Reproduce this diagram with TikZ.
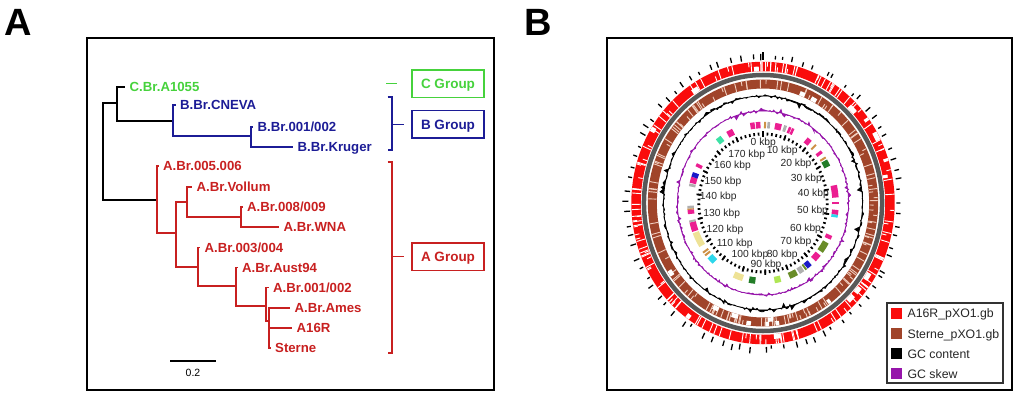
\documentclass[tikz,border=0pt]{standalone}
\usepackage{fontspec}
\setmainfont{Liberation Sans}
\usetikzlibrary{positioning}

\definecolor{cgreen}{RGB}{70,210,60}
\definecolor{bblue}{RGB}{28,28,150}
\definecolor{ared}{RGB}{200,32,32}
\definecolor{ringred}{RGB}{250,12,12}
\definecolor{ringbrown}{RGB}{160,68,42}
\definecolor{ringgap}{RGB}{240,205,190}
\definecolor{ringgray}{RGB}{88,88,88}
\definecolor{skew}{RGB}{150,20,170}
\definecolor{fpink}{RGB}{235,30,145}
\definecolor{fgreen}{RGB}{35,125,40}
\definecolor{folive}{RGB}{105,140,40}
\definecolor{flime}{RGB}{175,230,85}
\definecolor{fpale}{RGB}{238,226,150}
\definecolor{fcyan}{RGB}{45,215,235}
\definecolor{fteal}{RGB}{60,225,165}
\definecolor{ftan}{RGB}{205,145,70}
\definecolor{fgray}{RGB}{175,175,175}
\definecolor{fblue}{RGB}{25,25,200}

\tikzstyle{panel} = [inner sep=0pt, text height=27pt, text depth=0pt, font=\fontsize{38}{40}\selectfont\bfseries]
\tikzstyle{frame} = [line width=2.6pt]
\tikzstyle{leaf} = [anchor=west, inner xsep=4.5pt, inner ysep=0pt, text height=9.5pt, text depth=0pt, font=\fontsize{13.2}{15}\selectfont\bfseries]
\tikzstyle{branch} = [line width=1.8pt]
\tikzstyle{group} = [rectangle, draw, line width=1.8pt, minimum width=72.5pt, minimum height=27.5pt, inner sep=0pt, text height=9.7pt, text depth=0pt, font=\fontsize{13.5}{15}\selectfont\bfseries]
\tikzstyle{brace} = [line width=1.4pt]
\tikzstyle{gap} = [white, line width=0.9pt]
\tikzstyle{kbp} = [inner sep=0pt, text height=7.5pt, text depth=0pt, font=\fontsize{10.3}{12}\selectfont, text=black!85]
\tikzstyle{swatch} = [rectangle, minimum size=11pt, inner sep=0pt]
\tikzstyle{legendtext} = [inner sep=0pt, text height=8.8pt, text depth=0pt, font=\fontsize{12.3}{14}\selectfont, text=black!85]

\begin{document}
\begin{tikzpicture}[x=1pt, y=-1pt]
    \useasboundingbox (0,0) rectangle (1024,401);

    %Panels
    \node (panelA) [panel] at (18,22.5) {A};
    \node (panelB) [panel] at (538.5,22.5) {B};
    \draw [frame] (87,38) rectangle (494,390);
    \draw [frame] (607,38) rectangle (1012,390);

    %Inner tree nodes
    \coordinate (root) at (103,150);
    \coordinate (nCB) at (117,103);
    \coordinate (nB) at (173,121);
    \coordinate (nB2) at (251,136);
    \coordinate (nA) at (157,200);
    \coordinate (nA2) at (176,233);
    \coordinate (nA3) at (187,202);
    \coordinate (nA4) at (241,217);
    \coordinate (nA5) at (198,267);
    \coordinate (nA6) at (236,286);
    \coordinate (nA7) at (266,306);
    \coordinate (nA8) at (269,321);

    %Leaves
    \node (cbr) [leaf, text=cgreen] at (125,87) {C.Br.A1055};
    \node (bcneva) [leaf, text=bblue] at (175.5,105) {B.Br.CNEVA};
    \node (bbr) [leaf, text=bblue] at (253,127) {B.Br.001/002};
    \node (bkruger) [leaf, text=bblue] at (293,147) {B.Br.Kruger};
    \node (a005) [leaf, text=ared] at (158.5,166) {A.Br.005.006};
    \node (avollum) [leaf, text=ared] at (192,187) {A.Br.Vollum};
    \node (a008) [leaf, text=ared] at (242.5,207) {A.Br.008/009};
    \node (awna) [leaf, text=ared] at (279,227) {A.Br.WNA};
    \node (a003) [leaf, text=ared] at (200,247.5) {A.Br.003/004};
    \node (aaust) [leaf, text=ared] at (237.5,267.5) {A.Br.Aust94};
    \node (a001) [leaf, text=ared] at (268.5,287.5) {A.Br.001/002};
    \node (aames) [leaf, text=ared] at (290,308) {A.Br.Ames};
    \node (a16r) [leaf, text=ared] at (292,328) {A16R};
    \node (sterne) [leaf, text=ared] at (270.5,348) {Sterne};

    %Branches
    \foreach \p/\c in {root/nCB, root/nA, nCB/cbr.west, nCB/nB}
        \draw [branch] (\p) |- (\c);
    \foreach \p/\c in {nB/bcneva.west, nB/nB2, nB2/bbr.west, nB2/bkruger.west}
        \draw [branch, bblue] (\p) |- (\c);
    \foreach \p/\c in {nA/a005.west, nA/nA2, nA2/nA3, nA2/nA5, nA3/avollum.west, nA3/nA4,
        nA4/a008.west, nA4/awna.west, nA5/a003.west, nA5/nA6, nA6/aaust.west, nA6/nA7,
        nA7/a001.west, nA7/nA8, nA8/aames.west, nA8/a16r.west, nA8/sterne.west}
        \draw [branch, ared] (\p) |- (\c);

    %Scale bar
    \coordinate (bar1) at (170,361);
    \coordinate (bar2) at (216,361);
    \draw [line width=1.5pt] (bar1) -- (bar2);
    \node (barlabel) [font=\fontsize{10.5}{12}\selectfont] at (193,373) {0.2};

    %Groups
    \node (cgroup) [group, cgreen] at (448,83.8) {C Group};
    \node (bgroup) [group, bblue] at (448,124.2) {B Group};
    \node (agroup) [group, ared] at (448,256.7) {A Group};
    \coordinate (cmid) at (386,83.8);
    \coordinate (btop) at (392,97);
    \coordinate (bbot) at (392,150);
    \coordinate (bmid) at (392,124.2);
    \coordinate (atop) at (392,162);
    \coordinate (abot) at (392,353);
    \coordinate (amid) at (392,256.7);
    \draw [brace, cgreen, shorten >=13.4pt] (cmid) -- (cgroup);
    \draw [brace, bblue] ([xshift=-4.5pt]btop) -- (btop) -- (bbot) -- ([xshift=-4.5pt]bbot);
    \draw [brace, bblue, shorten >=6.7pt] (bmid) -- (bgroup);
    \draw [brace, ared] ([xshift=-4.5pt]atop) -- (atop) -- (abot) -- ([xshift=-4.5pt]abot);
    \draw [brace, ared, shorten >=6.7pt] (amid) -- (agroup);

    %Plasmid map
    \begin{scope}[shift={(763,203)}, x=0.93pt, y=1pt]
        \pgfmathsetseed{4711}
        %outer ticks
        \foreach \i in {0,...,79}{
            \pgfmathsetmacro\ta{90-\i*4.5+1.5*(2*rnd-1)}
            \pgfmathsetmacro\tr{142.5+2.5*rnd}
            \pgfmathsetmacro\tl{\tr+3+3.5*rnd}
            \draw [line width=1.3pt] (\ta:\tr) -- (\ta:\tl);
        }
        \draw [line width=1.3pt] (90:143) -- (90:151);
        %A16R ring
        \draw [ringred, line width=9.5pt] (0,0) circle (136.5);
        \foreach \i in {1,...,100}{
            \pgfmathsetmacro\ga{rnd*360}
            \draw [gap] (\ga:131.7) -- (\ga:141.3);
        }
        \foreach \i in {1,...,50}{
            \pgfmathsetmacro\ga{rnd*360}
            \pgfmathsetmacro\gr{131.7+4.8*round(rnd)}
            \pgfmathsetmacro\gs{\gr+4.8}
            \draw [gap] (\ga:\gr) -- (\ga:\gs);
        }
        \foreach \i in {1,...,14}{
            \pgfmathsetmacro\ga{rnd*360}
            \pgfmathsetmacro\gb{\ga+1+3*rnd}
            \pgfmathsetmacro\gr{134.1+4.8*round(rnd)}
            \draw [white, line width=4.8pt] (\ga:\gr) arc[start angle=\ga, end angle=\gb, radius=\gr];
        }
        %grey ring
        \draw [ringgray, line width=4.5pt] (0,0) circle (128);
        %Sterne ring
        \draw [ringbrown, line width=9pt] (0,0) circle (119);
        \foreach \i in {1,...,90}{
            \pgfmathsetmacro\ga{rnd*360}
            \draw [gap, ringgap] (\ga:114.6) -- (\ga:123.4);
        }
        \foreach \i in {1,...,50}{
            \pgfmathsetmacro\ga{rnd*360}
            \pgfmathsetmacro\gr{114.6+4.4*round(rnd)}
            \pgfmathsetmacro\gs{\gr+4.4}
            \draw [gap, ringgap] (\ga:\gr) -- (\ga:\gs);
        }
        \foreach \i in {1,...,10}{
            \pgfmathsetmacro\ga{rnd*360}
            \pgfmathsetmacro\gb{\ga+1+2.5*rnd}
            \pgfmathsetmacro\gr{116.8+4.4*round(rnd)}
            \draw [white, line width=4.4pt] (\ga:\gr) arc[start angle=\ga, end angle=\gb, radius=\gr];
        }
        %GC content
        \filldraw [line width=0.7pt, even odd rule] plot[domain=0:359, samples=300]
            (\x:{107+1.0*(2*rnd-1)+6.5*(2*rnd-1)*(2*rnd-1)*(2*rnd-1)}) -- cycle (0,0) circle (107);
        %GC skew
        \filldraw [skew, line width=0.7pt, even odd rule] plot[domain=0:359, samples=300]
            (\x:{92+0.9*(2*rnd-1)+5*(2*rnd-1)*(2*rnd-1)*(2*rnd-1)}) -- cycle (0,0) circle (92);
        %features
        \foreach \a/\b/\c in {92/95.6/fpink, 96.4/100/fpink, 87.6/89.2/ftan, 84.5/86.6/fgray,
            75.5/80.6/fpink, 71.5/73.8/fgray, 65.5/67.5/fpink, 68/70/fpink, 50/54/fpink,
            45/46.5/ftan, 38/40.5/fpink, 33.5/35/ftan, 27.5/32.5/fgreen, 4/13/fpink,
            -1/1/fpink, -8.5/-5/fpink, -10.5/-8.5/fcyan, -27/-24/fpink, -38/-30/folive,
            -46/-40.5/fpink, -54/-50/fblue, -56/-54.5/folive, -61/-57/fgray,
            -69/-62.5/folive, -81/-76/flime, -101/-96/fgreen, -113.5/-106/fpale,
            -137/-131.5/fcyan, -143/-141.5/ftan, -140.5/-139/ftan, -158/-147/fpale,
            -166/-159/fpink, -167.5/-166/fgray, -178/-176/fgray, -176/-175/ftan,
            -175/-172/fpink, 166/168/fgray, 161/165.5/fpink, 157.5/161/fblue,
            150.5/153/fpink, 124/128.5/fteal, 114/119/fpink}
            \draw [\c, line width=6.5pt] (\a:78) arc[start angle=\a, end angle=\b, radius=78];
        %kbp ticks
        \foreach \i in {0,...,90}{
            \pgfmathsetmacro\da{90-\i*3.956044}
            \draw [line width=1.7pt] (\da:67.5) -- (\da:70.5);
        }
        \foreach \k in {0,10,...,170}{
            \pgfmathsetmacro\da{90-\k*1.978022}
            \draw [line width=1.7pt] (\da:66.5) -- (\da:72);
        }
    \end{scope}

    %kbp labels
    \foreach \k/\px/\py in {0/763.3/141.5, 10/782.2/149.5, 20/796/162.5, 30/806.3/177.5,
        40/813.3/192.5, 50/812.5/210.2, 60/805.5/227.5, 70/795.8/240.8, 80/782.2/254,
        90/766/263.5, 100/750/254, 110/734.7/242.5, 120/725/229.2, 130/721.7/212.5,
        140/718.3/196.2, 150/723/180.8, 160/732.5/164.5, 170/746.7/154.2}
        \node (kbp\k) [kbp] at (\px,\py) {\k\ kbp};

    %Legend
    \node (legend) [draw=black!80, line width=1.1pt, minimum width=116pt, minimum height=80pt, inner sep=0pt] at (945,343) {};
    \node (swa) [swatch, fill=ringred] at (896.2,313.5) {};
    \node (swb) [swatch, fill=ringbrown, below=8.7pt of swa] {};
    \node (swc) [swatch, fill=black, below=8.7pt of swb] {};
    \node (swd) [swatch, fill=skew, below=8.7pt of swc] {};
    \node (lta) [legendtext, right=5.5pt of swa] {A16R\_pXO1.gb};
    \node (ltb) [legendtext, right=5.5pt of swb] {Sterne\_pXO1.gb};
    \node (ltc) [legendtext, right=5.5pt of swc] {GC content};
    \node (ltd) [legendtext, right=5.5pt of swd] {GC skew};

\end{tikzpicture}
\end{document}
